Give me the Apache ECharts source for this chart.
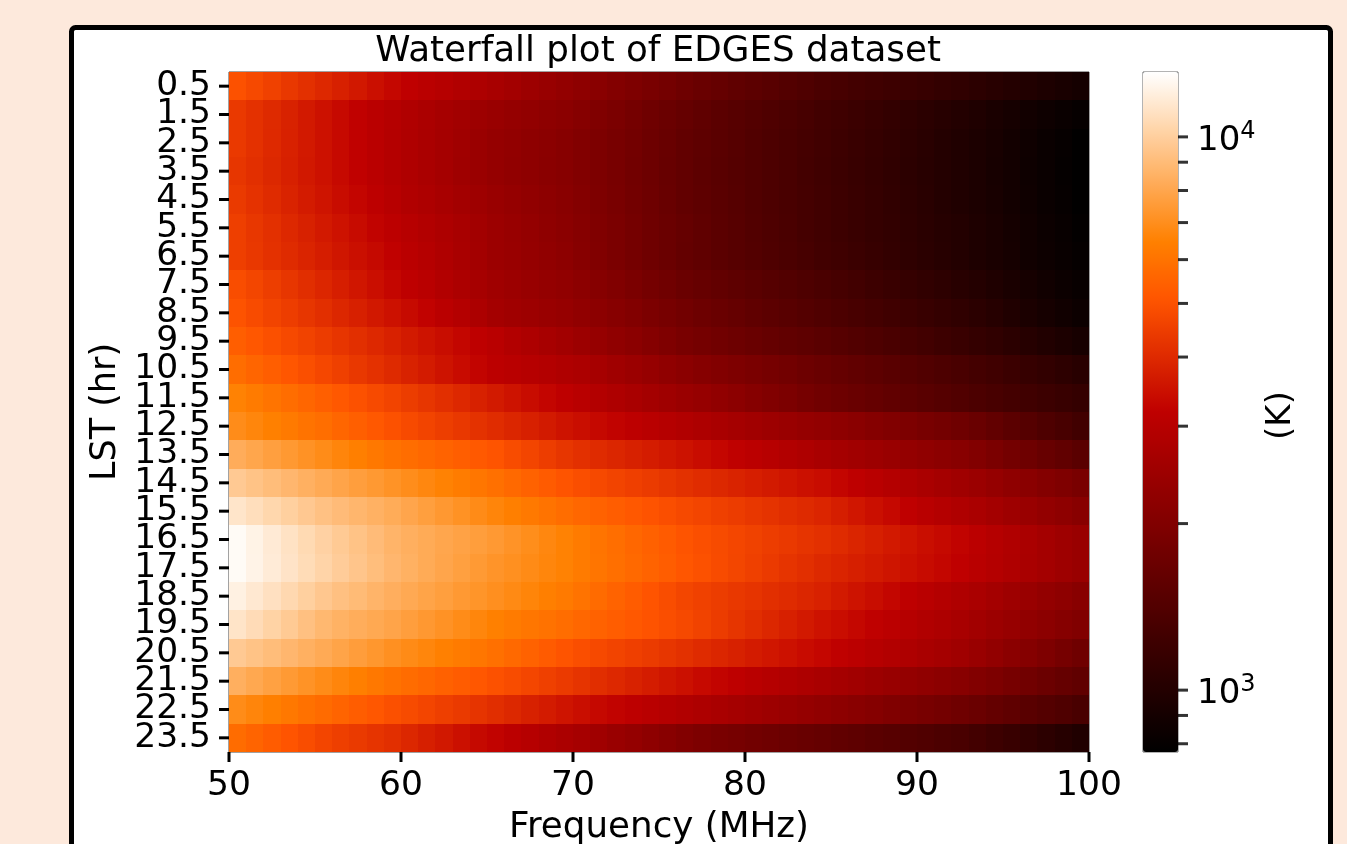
<!DOCTYPE html>
<html><head><meta charset="utf-8">
<style>html,body{margin:0;padding:0;background:#fde9dc;overflow:hidden}#c{width:1347px;height:844px}</style>
<script src="https://cdn.jsdelivr.net/npm/echarts@6/dist/echarts.min.js"></script>
</head><body><div id="c"></div>
<script>
// Sky temperature, as log10(K). One list per LST hour; one value per MHz band from 50 to 99.
const lst00 = [3.698,3.678,3.658,3.638,3.618,3.598,3.578,3.559,3.539,3.519,3.503,3.488,3.474,3.459,3.444,3.429,3.412,3.395,3.377,3.360,3.343,3.326,3.309,3.292,3.275,3.258,3.240,3.225,3.211,3.197,3.183,3.169,3.155,3.140,3.126,3.115,3.104,3.094,3.083,3.073,3.063,3.052,3.042,3.030,3.017,3.005,2.993,2.981,2.968,2.956];
const lst01 = [3.640,3.621,3.602,3.583,3.563,3.544,3.525,3.506,3.487,3.470,3.454,3.439,3.424,3.410,3.395,3.380,3.368,3.357,3.345,3.334,3.317,3.299,3.281,3.263,3.245,3.227,3.210,3.194,3.181,3.168,3.154,3.141,3.128,3.114,3.101,3.089,3.076,3.064,3.051,3.038,3.025,3.012,2.999,2.986,2.972,2.959,2.946,2.933,2.919,2.906];
const lst02 = [3.639,3.620,3.601,3.582,3.562,3.543,3.524,3.505,3.486,3.469,3.453,3.436,3.419,3.402,3.384,3.367,3.356,3.344,3.333,3.322,3.306,3.289,3.272,3.255,3.237,3.220,3.203,3.188,3.175,3.162,3.148,3.135,3.122,3.108,3.095,3.082,3.070,3.057,3.044,3.031,3.018,3.005,2.992,2.978,2.964,2.949,2.935,2.921,2.906,2.892];
const lst03 = [3.632,3.615,3.597,3.579,3.561,3.543,3.524,3.505,3.486,3.469,3.452,3.435,3.418,3.401,3.383,3.366,3.355,3.343,3.332,3.321,3.305,3.288,3.271,3.254,3.236,3.219,3.202,3.187,3.174,3.161,3.147,3.134,3.121,3.107,3.094,3.081,3.069,3.056,3.043,3.030,3.017,3.004,2.991,2.977,2.963,2.948,2.934,2.920,2.905,2.892];
const lst04 = [3.641,3.623,3.605,3.587,3.568,3.550,3.532,3.514,3.496,3.478,3.459,3.444,3.428,3.412,3.396,3.380,3.367,3.354,3.341,3.328,3.311,3.293,3.275,3.257,3.239,3.221,3.203,3.188,3.175,3.162,3.148,3.135,3.122,3.108,3.095,3.082,3.070,3.057,3.044,3.031,3.018,3.005,2.992,2.978,2.964,2.949,2.935,2.921,2.906,2.892];
const lst05 = [3.653,3.635,3.617,3.599,3.581,3.563,3.546,3.528,3.510,3.492,3.476,3.460,3.444,3.428,3.410,3.392,3.378,3.363,3.349,3.334,3.317,3.299,3.281,3.263,3.245,3.227,3.210,3.194,3.180,3.166,3.152,3.138,3.124,3.110,3.095,3.083,3.071,3.059,3.047,3.035,3.023,3.011,2.999,2.985,2.970,2.956,2.941,2.927,2.913,2.898];
const lst06 = [3.654,3.637,3.621,3.605,3.588,3.572,3.555,3.539,3.523,3.506,3.488,3.470,3.452,3.433,3.413,3.392,3.379,3.366,3.353,3.341,3.321,3.302,3.283,3.264,3.245,3.226,3.207,3.194,3.181,3.168,3.154,3.141,3.128,3.114,3.101,3.089,3.076,3.064,3.051,3.038,3.025,3.012,2.999,2.985,2.972,2.958,2.944,2.931,2.917,2.903];
const lst07 = [3.689,3.670,3.651,3.632,3.613,3.594,3.575,3.556,3.537,3.518,3.501,3.482,3.461,3.442,3.423,3.404,3.391,3.378,3.365,3.353,3.336,3.318,3.300,3.282,3.264,3.246,3.228,3.214,3.201,3.189,3.176,3.164,3.151,3.138,3.126,3.112,3.098,3.085,3.071,3.058,3.044,3.031,3.017,3.002,2.987,2.972,2.958,2.943,2.928,2.913];
const lst08 = [3.702,3.684,3.667,3.649,3.632,3.614,3.596,3.579,3.561,3.544,3.526,3.508,3.488,3.466,3.442,3.416,3.405,3.393,3.382,3.371,3.355,3.338,3.321,3.304,3.286,3.269,3.252,3.237,3.224,3.211,3.197,3.184,3.171,3.157,3.144,3.131,3.119,3.106,3.093,3.080,3.068,3.055,3.042,3.025,3.009,2.992,2.975,2.959,2.942,2.925];
const lst09 = [3.728,3.712,3.695,3.679,3.663,3.647,3.630,3.614,3.598,3.582,3.565,3.549,3.533,3.517,3.500,3.484,3.461,3.444,3.426,3.409,3.390,3.371,3.352,3.333,3.314,3.295,3.276,3.263,3.250,3.238,3.225,3.213,3.200,3.188,3.175,3.162,3.150,3.137,3.124,3.111,3.098,3.085,3.072,3.056,3.041,3.025,3.009,2.993,2.978,2.962];
const lst10 = [3.764,3.746,3.728,3.710,3.692,3.674,3.656,3.638,3.620,3.602,3.584,3.566,3.548,3.530,3.512,3.494,3.484,3.474,3.464,3.453,3.441,3.423,3.405,3.387,3.369,3.351,3.333,3.318,3.305,3.292,3.278,3.265,3.252,3.238,3.225,3.212,3.199,3.186,3.174,3.161,3.148,3.135,3.122,3.107,3.092,3.077,3.062,3.047,3.032,3.017];
const lst11 = [3.814,3.797,3.781,3.764,3.747,3.731,3.714,3.698,3.681,3.665,3.648,3.631,3.615,3.598,3.581,3.565,3.548,3.532,3.515,3.498,3.482,3.465,3.449,3.432,3.416,3.400,3.385,3.371,3.354,3.337,3.319,3.302,3.284,3.267,3.250,3.237,3.224,3.212,3.199,3.186,3.173,3.160,3.146,3.133,3.120,3.107,3.094,3.081,3.067,3.054];
const lst12 = [3.840,3.825,3.810,3.795,3.780,3.766,3.749,3.732,3.714,3.697,3.681,3.666,3.651,3.636,3.622,3.607,3.593,3.578,3.564,3.549,3.535,3.522,3.509,3.496,3.484,3.471,3.458,3.444,3.431,3.419,3.406,3.394,3.381,3.368,3.358,3.345,3.331,3.316,3.302,3.287,3.273,3.259,3.244,3.223,3.202,3.181,3.160,3.139,3.118,3.097];
const lst13 = [3.918,3.902,3.886,3.870,3.854,3.839,3.823,3.807,3.792,3.776,3.764,3.752,3.740,3.729,3.717,3.705,3.686,3.668,3.649,3.631,3.617,3.605,3.593,3.581,3.569,3.557,3.545,3.532,3.518,3.504,3.490,3.476,3.462,3.447,3.433,3.420,3.406,3.393,3.379,3.365,3.352,3.338,3.324,3.303,3.282,3.261,3.240,3.219,3.198,3.177];
const lst14 = [3.987,3.972,3.957,3.942,3.927,3.912,3.898,3.884,3.870,3.856,3.842,3.828,3.814,3.800,3.786,3.773,3.756,3.739,3.721,3.704,3.691,3.679,3.667,3.655,3.643,3.631,3.619,3.608,3.597,3.586,3.575,3.564,3.553,3.542,3.531,3.515,3.499,3.483,3.467,3.451,3.435,3.419,3.404,3.386,3.367,3.349,3.331,3.312,3.294,3.275];
const lst15 = [4.053,4.036,4.019,4.002,3.985,3.968,3.954,3.941,3.929,3.916,3.901,3.885,3.869,3.853,3.838,3.822,3.808,3.794,3.779,3.765,3.751,3.739,3.727,3.715,3.703,3.691,3.679,3.668,3.657,3.646,3.635,3.624,3.613,3.602,3.591,3.574,3.556,3.538,3.521,3.503,3.485,3.468,3.453,3.435,3.416,3.398,3.380,3.361,3.343,3.324];
const lst16 = [4.107,4.087,4.067,4.046,4.026,4.006,3.988,3.971,3.954,3.936,3.925,3.914,3.903,3.893,3.882,3.871,3.857,3.843,3.828,3.814,3.798,3.782,3.767,3.751,3.736,3.721,3.705,3.694,3.683,3.672,3.661,3.650,3.639,3.628,3.617,3.604,3.590,3.577,3.563,3.550,3.536,3.523,3.509,3.491,3.472,3.454,3.435,3.417,3.398,3.380];
const lst17 = [4.107,4.088,4.069,4.050,4.031,4.012,3.994,3.977,3.960,3.942,3.928,3.914,3.900,3.887,3.873,3.859,3.848,3.836,3.825,3.814,3.799,3.784,3.770,3.755,3.741,3.726,3.711,3.698,3.684,3.670,3.656,3.642,3.628,3.614,3.600,3.588,3.576,3.564,3.552,3.540,3.528,3.516,3.503,3.485,3.468,3.450,3.433,3.415,3.397,3.380];
const lst18 = [4.082,4.062,4.042,4.022,4.002,3.982,3.966,3.952,3.937,3.923,3.910,3.897,3.885,3.872,3.860,3.847,3.834,3.821,3.808,3.795,3.778,3.760,3.742,3.724,3.706,3.688,3.670,3.659,3.648,3.637,3.626,3.615,3.604,3.593,3.582,3.565,3.549,3.533,3.517,3.501,3.485,3.469,3.453,3.435,3.416,3.398,3.380,3.361,3.343,3.324];
const lst19 = [4.051,4.030,4.009,3.988,3.966,3.945,3.931,3.920,3.909,3.898,3.883,3.869,3.854,3.839,3.825,3.810,3.799,3.787,3.776,3.765,3.751,3.739,3.727,3.715,3.703,3.691,3.679,3.663,3.646,3.629,3.612,3.596,3.579,3.562,3.546,3.534,3.519,3.504,3.489,3.474,3.459,3.444,3.429,3.411,3.392,3.374,3.355,3.337,3.318,3.300];
const lst20 = [3.987,3.972,3.957,3.942,3.927,3.912,3.897,3.881,3.866,3.850,3.837,3.824,3.811,3.798,3.786,3.773,3.756,3.739,3.721,3.704,3.691,3.679,3.667,3.655,3.643,3.631,3.619,3.606,3.593,3.581,3.568,3.556,3.543,3.530,3.518,3.504,3.490,3.475,3.461,3.447,3.432,3.418,3.404,3.381,3.358,3.335,3.313,3.290,3.267,3.244];
const lst21 = [3.924,3.907,3.890,3.873,3.856,3.839,3.823,3.807,3.792,3.776,3.763,3.750,3.737,3.724,3.712,3.699,3.685,3.671,3.656,3.642,3.627,3.612,3.598,3.583,3.569,3.554,3.540,3.525,3.512,3.498,3.485,3.472,3.459,3.445,3.432,3.419,3.406,3.392,3.378,3.365,3.351,3.338,3.324,3.306,3.287,3.269,3.250,3.232,3.213,3.195];
const lst22 = [3.839,3.823,3.807,3.791,3.775,3.759,3.743,3.727,3.712,3.696,3.682,3.668,3.654,3.641,3.627,3.613,3.597,3.581,3.566,3.550,3.535,3.522,3.509,3.496,3.484,3.471,3.458,3.446,3.433,3.420,3.406,3.393,3.380,3.366,3.353,3.340,3.326,3.313,3.299,3.285,3.272,3.258,3.244,3.227,3.209,3.192,3.174,3.157,3.140,3.122];
const lst23 = [3.763,3.744,3.725,3.706,3.687,3.668,3.653,3.641,3.628,3.615,3.595,3.577,3.559,3.541,3.523,3.509,3.491,3.474,3.456,3.439,3.422,3.402,3.382,3.363,3.343,3.323,3.304,3.288,3.277,3.266,3.254,3.243,3.232,3.221,3.210,3.199,3.188,3.177,3.166,3.155,3.144,3.133,3.122,3.103,3.085,3.066,3.047,3.029,3.010,2.992];
const lstRows = [lst00,lst01,lst02,lst03,lst04,lst05,lst06,lst07,lst08,lst09,lst10,lst11,lst12,lst13,lst14,lst15,lst16,lst17,lst18,lst19,lst20,lst21,lst22,lst23];

const lstLabels = ['0.5','1.5','2.5','3.5','4.5','5.5','6.5','7.5','8.5','9.5','10.5','11.5','12.5','13.5','14.5','15.5','16.5','17.5','18.5','19.5','20.5','21.5','22.5','23.5'];
const freqBands = lst00.map((_, i) => String(50 + i));
const freqTicks = [50,60,70,80,90,100];
const colorbarTicks = [800,900,1000,2000,3000,4000,5000,6000,7000,8000,9000,10000];
const colorbarLabels = [1000,10000];
const colorMinK = 773, colorMaxK = 13100;

// gist_heat, sampled at twelfths
const gistHeat = ['#000000','#200000','#400000','#600000','#800000','#9f0000','#bf0000','#df2b00','#ff5500','#ff8000','#ffaa55','#ffd5aa','#ffffff'];

const FONT = '"DejaVu Sans"';
const cells = [];
lstRows.forEach((row, y) => row.forEach((v, x) => cells.push([x, y, v])));

const frame = {id:'frame',type:'rect',z:-10,silent:true,shape:{x:71.5,y:27.5,width:1259,height:900,r:4},style:{fill:'#fff',stroke:'#000',lineWidth:5}};

const chart = echarts.init(document.getElementById('c'), null, {renderer:'canvas'});
chart.setOption({
  animation:false,
  backgroundColor:'#fde9dc',
  textStyle:{fontFamily:FONT,color:'#000'},
  graphic:[frame],
  title:{text:'Waterfall plot of EDGES dataset',left:658,top:34,textAlign:'center',padding:0,textStyle:{fontFamily:FONT,fontSize:35.7,fontWeight:'normal',color:'#000'}},
  grid:[
    {left:229,top:72,width:860,height:680,outerBoundsMode:'none',show:true,borderColor:'#444',borderWidth:1,backgroundColor:'transparent'},
    {left:1143,top:72,width:35,height:680,outerBoundsMode:'none',show:true,borderColor:'#666',borderWidth:1,backgroundColor:'transparent'},
    {left:229,top:72,width:860,height:680,outerBoundsMode:'none',show:false}
  ],
  xAxis:[
    {type:'category',gridIndex:0,data:freqBands,show:false},
    {type:'value',gridIndex:0,position:'bottom',min:50,max:100,interval:10,
     name:'Frequency (MHz)',nameLocation:'middle',nameGap:58,nameTextStyle:{fontFamily:FONT,fontSize:35.7,color:'#000'},
     splitLine:{show:false},axisLine:{show:false},axisTick:{show:false},
     axisLabel:{fontFamily:FONT,fontSize:34.5,color:'#000',margin:17,hideOverlap:false,showMinLabel:true,showMaxLabel:true}},
    {type:'value',gridIndex:1,min:0,max:1,show:false},
    {type:'value',gridIndex:2,min:50,max:100,show:false}
  ],
  yAxis:[
    {type:'category',gridIndex:0,data:lstLabels,inverse:true,
     name:'LST (hr)',nameLocation:'middle',nameRotate:90,nameGap:100,nameTextStyle:{fontFamily:FONT,fontSize:35,color:'#000'},
     axisLine:{show:false},splitLine:{show:false},axisTick:{show:false},
     axisLabel:{interval:0,fontFamily:FONT,fontSize:34.5,lineHeight:28,padding:[10,0,0,0],color:'#000',margin:18}},
    {type:'log',logBase:10,gridIndex:1,position:'right',min:colorMinK,max:colorMaxK,
     name:'(K)',nameLocation:'middle',nameRotate:90,nameGap:86,nameTextStyle:{fontFamily:FONT,fontSize:34,color:'#000',padding:[0,7,0,0]},
     axisLine:{show:false},splitLine:{show:false},minorTick:{show:false},axisTick:{show:false},
     axisLabel:{customValues:colorbarLabels,margin:19,color:'#000',fontFamily:FONT,padding:[8,0,0,0],
       formatter:v=>'{b|10}{s|'+Math.round(Math.log10(v))+'}',
       rich:{b:{fontFamily:FONT,fontSize:34,color:'#000'},s:{fontFamily:FONT,fontSize:24,color:'#000',padding:[0,0,19,0]}}}},
    {type:'value',gridIndex:2,min:0,max:24,inverse:true,show:false}
  ],
  visualMap:{type:'continuous',seriesIndex:0,dimension:2,min:Math.log10(colorMinK),max:Math.log10(colorMaxK),calculable:false,hoverLink:false,
    left:1143,top:72,itemWidth:35,itemHeight:680,padding:0,text:['',''],showLabel:false,
    inRange:{color:gistHeat}},
  series:[
    {type:'custom',xAxisIndex:0,yAxisIndex:0,data:cells,silent:true,encode:{x:0,y:1},
     renderItem:(params,api)=>{
       const c=api.coord([api.value(0),api.value(1)]), s=api.size([1,1]);
       const x0=Math.round(c[0]-s[0]/2), x1=Math.round(c[0]+s[0]/2), y0=Math.round(c[1]-s[1]/2), y1=Math.round(c[1]+s[1]/2);
       return {type:'rect',shape:{x:x0,y:y0,width:x1-x0,height:y1-y0},style:{fill:api.visual('color')}};
     }},
    {type:'scatter',xAxisIndex:1,yAxisIndex:0,data:[],silent:true},
    {type:'scatter',xAxisIndex:3,yAxisIndex:2,data:[],silent:true},
    {type:'scatter',xAxisIndex:2,yAxisIndex:1,silent:true,clip:false,z:5,symbol:'rect',symbolSize:[10,3],symbolOffset:[5,0],itemStyle:{color:'#000'},data:colorbarTicks.map(k=>[1,k])}
  ]
});

// Left and bottom tick marks, positioned by the overlay grid's axes.
const toPx = p => chart.convertToPixel({gridIndex:2}, p);
const tickRect = (x, y, width, height) => ({type:'rect',z:100,silent:true,shape:{x,y,width,height},style:{fill:'#000'}});
const leftTicks = lstLabels.map(l => { const p = toPx([50, Number(l)]); return tickRect(p[0]-10, p[1]-1.5, 10, 3); });
const bottomTicks = freqTicks.map(f => { const p = toPx([f, 24]); return tickRect(p[0]-1.5, p[1], 3, 10); });
chart.setOption({graphic:[frame, ...leftTicks, ...bottomTicks]});
</script></body></html>
